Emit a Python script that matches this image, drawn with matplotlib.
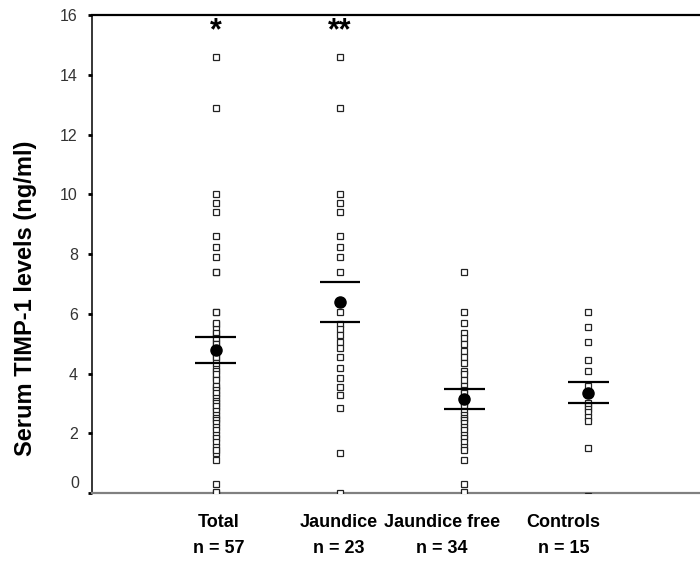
import matplotlib
matplotlib.use("Agg")
import matplotlib.pyplot as plt

# values (ng/ml)
groups = ["Total", "Jaundice", "Jaundice free", "Controls"]
group_n = ["n = 57", "n = 23", "n = 34", "n = 15"]

jaundice = [14.6, 12.9, 10.0, 9.7, 9.4, 8.6, 8.25, 7.9, 7.4, 6.05, 5.65,
            5.5, 5.3, 5.05, 4.85, 4.55, 4.2, 3.85, 3.55, 3.3, 2.85, 1.35, 0.0]
jaundice_free = [7.4, 6.05, 5.7, 5.35, 5.2, 5.0, 4.75, 4.55, 4.35, 4.1, 4.0,
                 3.8, 3.6, 3.45, 3.35, 3.2, 3.1, 3.0, 2.9, 2.75, 2.6, 2.5,
                 2.45, 2.35, 2.2, 2.1, 1.95, 1.85, 1.7, 1.55, 1.45, 1.1,
                 0.3, 0.05]
controls = [6.05, 5.55, 5.05, 4.45, 4.1, 3.6, 3.35, 3.0, 2.9, 2.8, 2.7,
            2.55, 2.4, 1.5, -0.1]
# total group = jaundice + jaundice free patients
total = jaundice + jaundice_free

group_values = [total, jaundice, jaundice_free, controls]
group_mean = [4.8, 6.4, 3.15, 3.36]
group_sem = [0.44, 0.68, 0.34, 0.35]
group_stars = ["*", "**", "", ""]

y_ticks = [0, 2, 4, 6, 8, 10, 12, 14, 16]

FONT = "Liberation Sans"

fig = plt.figure(figsize=(7.0, 5.61), dpi=100)
ax = fig.add_axes([0.131, 0.121, 0.869, 0.852])

xpos = [1, 2, 3, 4]
for x, vals in zip(xpos, group_values):
    ax.plot([x] * len(vals), vals, linestyle="none", marker="s",
            markersize=5, markerfacecolor="white", markeredgecolor="#222222",
            markeredgewidth=0.9, zorder=3)

for x, m, s in zip(xpos, group_mean, group_sem):
    ax.hlines([m - s, m + s], x - 0.165, x + 0.165, color="black",
              linewidth=1.6, zorder=4)
    ax.plot([x], [m], marker="o", markersize=8, color="black", zorder=5)

for x, star in zip(xpos, group_stars):
    if star:
        ax.text(x, 15.45, star, ha="center", va="center", fontsize=22,
                fontweight="bold", family=FONT)

ax.set_xlim(0.0, 4.9)
ax.set_ylim(0, 16)

# y ticks; the "0" label sits a bit higher than its tick in the original
ax.set_yticks(y_ticks)
ax.set_yticklabels([""] + [str(t) for t in y_ticks[1:]])
ax.annotate("0", xy=(0, 0), xycoords=ax.get_yaxis_transform(),
            xytext=(-9, 7), textcoords="offset points", ha="right",
            va="center", fontsize=11.5, color="#333333", family=FONT,
            annotation_clip=False)
ax.tick_params(axis="y", direction="out", length=3, width=2, pad=7,
               labelsize=11.5, labelcolor="#333333")
for lab in ax.get_yticklabels():
    lab.set_family(FONT)

label_x = [1.02, 1.99, 2.82, 3.8]
ax.set_xticks(label_x)
ax.set_xticklabels([f"{g}\n{n}" for g, n in zip(groups, group_n)],
                   fontsize=13, fontweight="bold", family=FONT,
                   linespacing=1.7)
ax.tick_params(axis="x", length=0, pad=15)

ax.spines["right"].set_visible(False)
ax.spines["top"].set_linewidth(1.6)
ax.spines["left"].set_linewidth(1.1)
ax.spines["bottom"].set_color("#808080")
ax.spines["bottom"].set_linewidth(1.6)

fig.text(0.036, 1 - 298 / 561, "Serum TIMP-1 levels (ng/ml)", rotation=90,
         ha="center", va="center", fontsize=17, fontweight="bold",
         family=FONT)

fig.savefig("out.png", dpi=100)
